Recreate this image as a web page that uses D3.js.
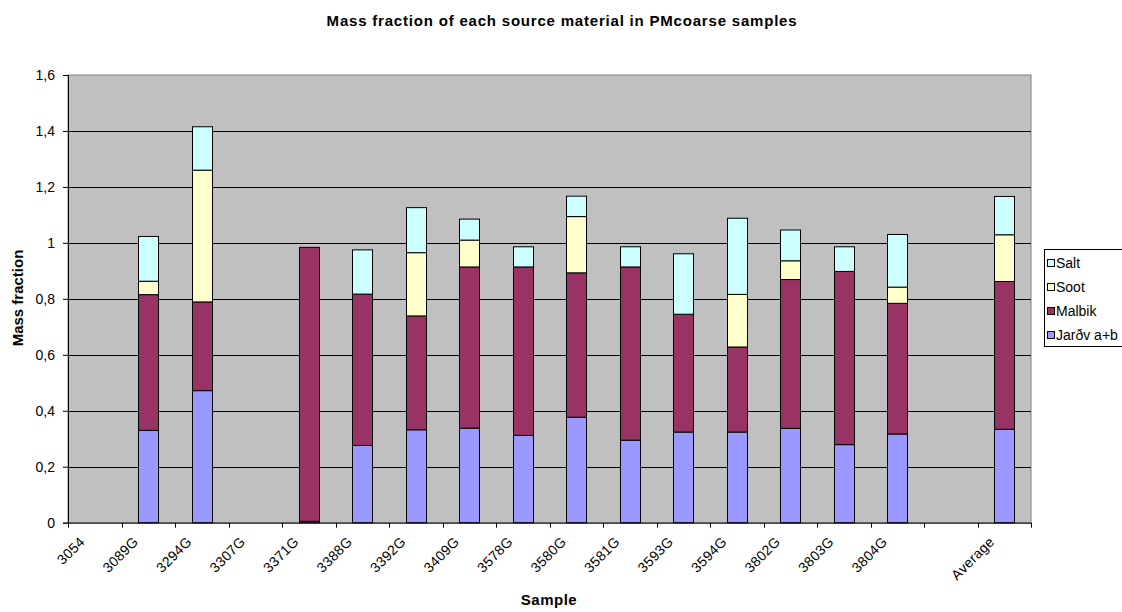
<!DOCTYPE html>
<html><head><meta charset="utf-8">
<script src="https://cdn.jsdelivr.net/npm/d3@7/dist/d3.min.js"></script>
<style>body{margin:0;background:#fff}svg{display:block}text{font-family:Arial,"Liberation Sans",sans-serif}</style>
</head><body><svg id="c" width="1122" height="612"></svg>
<script>
const categories = ["3054","3089G","3294G","3307G","3371G","3388G","3392G","3409G","3578G","3580G","3581G","3593G","3594G","3802G","3803G","3804G","","Average"];
const jardv  = [0,0.330,0.472,0,0.005,0.276,0.332,0.338,0.312,0.377,0.295,0.324,0.324,0.337,0.279,0.317,0,0.334];
const malbik = [0,0.485,0.317,0,0.979,0.541,0.407,0.576,0.602,0.516,0.619,0.421,0.304,0.532,0.619,0.467,0,0.528];
const soot   = [0,0.048,0.471,0,0,0,0.226,0.096,0,0.201,0,0,0.188,0.067,0,0.058,0,0.167];
const salt   = [0,0.160,0.155,0,0,0.158,0.161,0.075,0.072,0.073,0.072,0.216,0.272,0.110,0.088,0.188,0,0.137];
const seriesNames = ["Jarðv a+b","Malbik","Soot","Salt"];
const seriesColors = ["#9999FF","#993366","#FFFFCC","#CCFFFF"];
const yTicks = [0,0.2,0.4,0.6,0.8,1,1.2,1.4,1.6];
const titleText = "Mass fraction of each source material in PMcoarse samples";

const svg = d3.select("#c");
const L = 68, R = 1031, T = 75, B = 522.7;
const y = d3.scaleLinear().domain([0,1.6]).range([B,T]);
const xb = d3.scaleBand().domain(d3.range(categories.length)).range([L,R]).padding(0);
const xbar = d3.scaleBand().domain(d3.range(categories.length)).range([L,R]).paddingInner(0.626).paddingOuter(0.313);

// plot area
svg.append("rect").attr("x",L).attr("y",T).attr("width",R-L).attr("height",B-T).attr("fill","#C0C0C0").attr("stroke","#808080").attr("stroke-width",1);
// gridlines
svg.append("g").selectAll("line").data(yTicks.filter(d=>d>0 && d<1.6)).join("line")
  .attr("x1",L).attr("x2",R).attr("y1",d=>Math.round(y(d))+0.5).attr("y2",d=>Math.round(y(d))+0.5)
  .attr("stroke","#000").attr("stroke-width",1);

// stacked data
const rows = categories.map((c,i)=>({i, "Jarðv a+b":jardv[i], "Malbik":malbik[i], "Soot":soot[i], "Salt":salt[i]}));
const stack = d3.stack().keys(seriesNames)(rows);
const g = svg.append("g");
stack.forEach((s,k)=>{
  g.append("g").selectAll("rect").data(s.filter(d=>d[1]-d[0]>0)).join("rect")
    .attr("x",d=>Math.round(xbar(d.data.i))+0.5)
    .attr("width",Math.round(xbar.bandwidth()))
    .attr("y",d=>y(d[1]))
    .attr("height",d=>y(d[0])-y(d[1]))
    .attr("fill",seriesColors[k]).attr("stroke","#000").attr("stroke-width",1);
});

// y axis
const ya = svg.append("g").attr("transform",`translate(${L},0)`)
  .call(d3.axisLeft(y).tickValues(yTicks).tickSize(5).tickPadding(8).tickFormat(d=>String(d).replace(".",",")));
ya.select(".domain").attr("stroke","#000");
ya.selectAll("text").attr("font-size","14px").attr("fill","#000").style("font-family","Arial");

// x axis
const xa = svg.append("g").attr("transform",`translate(0,${B})`);
xa.append("line").attr("x1",L).attr("x2",R).attr("y1",0.5).attr("y2",0.5).attr("stroke","#000");
const bounds = d3.range(categories.length+1).map(i=> i<categories.length ? xb(i) : R);
xa.selectAll("line.t").data(bounds).join("line").attr("class","t")
  .attr("x1",d=>Math.round(d)+0.5).attr("x2",d=>Math.round(d)+0.5).attr("y1",0).attr("y2",5).attr("stroke","#000");
xa.selectAll("text").data(categories).join("text")
  .attr("transform",(d,i)=>`translate(${xb(i)+xb.bandwidth()/2-9},${20}) rotate(-45)`)
  .attr("text-anchor","end").attr("font-size","14px").attr("letter-spacing","0.3px").text(d=>d);

// titles
svg.append("text").attr("x",562).attr("y",26).attr("text-anchor","middle").attr("font-weight","bold").attr("font-size","15px").attr("letter-spacing","0.8px").text(titleText);
svg.append("text").attr("x",549).attr("y",605).attr("text-anchor","middle").attr("font-weight","bold").attr("font-size","15px").attr("letter-spacing","0.5px").text("Sample");
svg.append("text").attr("transform","translate(23,298) rotate(-90)").attr("text-anchor","middle").attr("font-weight","bold").attr("font-size","15px").text("Mass fraction");

// legend
const lg = svg.append("g").attr("transform","translate(1044,249)");
lg.append("rect").attr("x",0.5).attr("y",0.5).attr("width",100).attr("height",97).attr("fill","#fff").attr("stroke","#000");
const leg = seriesNames.slice().reverse();
const legC = seriesColors.slice().reverse();
leg.forEach((n,k)=>{
  const yy = 14 + k*24;
  lg.append("rect").attr("x",3.5).attr("y",yy-3.5).attr("width",7).attr("height",7).attr("fill",legC[k]).attr("stroke","#000");
  lg.append("text").attr("x",12).attr("y",yy+5).attr("font-size","14px").text(n);
});
</script></body></html>
